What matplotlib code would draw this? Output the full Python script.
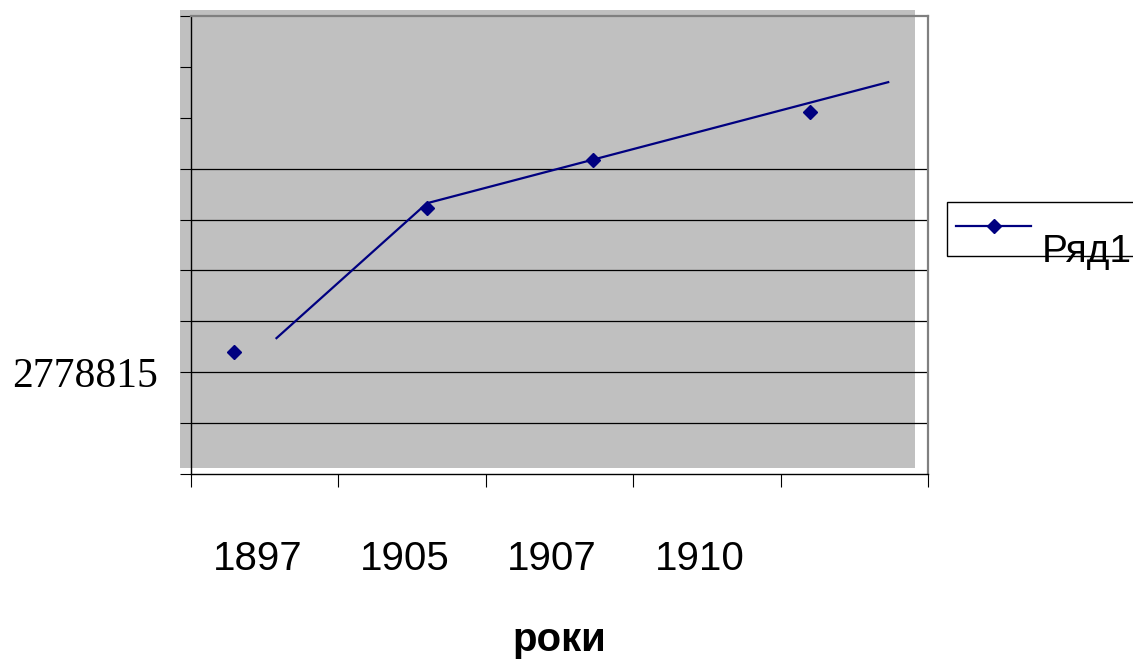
import matplotlib
matplotlib.use("Agg")
import matplotlib.pyplot as plt
from matplotlib.patches import Rectangle
from matplotlib.lines import Line2D

#############################################################################################
# data

# category labels under the x axis (they sit between the tick marks)
years = ["1897", "1905", "1907", "1910"]
year_pos = [0.45, 1.45, 2.45, 3.45]

# y scale: only one tick label is printed in the original
y_base = 1778815
y_step = 500000
y_ticks = [y_base + k * y_step for k in range(10)]
y_labeled = 2778815
grid_vals = y_ticks[1:7]

# series "Ряд1" - markers and line are drawn apart, as in the original
marker_x = [0.29, 1.60, 2.73, 4.20]
marker_y = [2978815, 4393815, 4863815, 5333815]
line_x = [0.58, 1.60, 4.73]
line_y = [3113815, 4438815, 5628815]

series_name = "Ряд1"
x_title = "роки"
navy = "#000080"

#############################################################################################
fig = plt.figure(figsize=(11.33, 6.6), dpi=100)
ax = fig.add_axes([191 / 1133, 186 / 660, 737 / 1133, 458 / 660])
ax.patch.set_visible(False)

# grey plot area, slightly shifted from the axes
ax.add_patch(Rectangle((-0.0149, 0.0131), 0.9973, 1.0, transform=ax.transAxes,
                       facecolor="#c0c0c0", edgecolor="none", zorder=0, clip_on=False))

for v in grid_vals:
    ax.axhline(v, color="black", lw=0.9, zorder=1)

ax.plot(line_x, line_y, color=navy, lw=1.6, zorder=3)
ax.plot(marker_x, marker_y, ls="none", marker="D", ms=7.5, color=navy, zorder=3)

ax.set_xlim(0, 5)
ax.set_ylim(y_ticks[0], y_ticks[-1])

# axes frame
ax.spines["left"].set_color("black")
ax.spines["bottom"].set_color("black")
ax.spines["top"].set_color("#808080")
ax.spines["right"].set_color("#808080")
ax.spines["top"].set_linewidth(1.6)
ax.spines["right"].set_linewidth(1.6)
for s in ["left", "bottom"]:
    ax.spines[s].set_linewidth(1.0)

# y ticks
ax.set_yticks(y_ticks)
ax.set_yticklabels([str(v) if v == y_labeled else "" for v in y_ticks],
                   fontfamily="Liberation Serif", fontsize=30)
ax.tick_params(axis="y", direction="out", length=8, width=0.8, pad=16)

# x ticks: marks on integer positions, year labels in between
ax.set_xticks(range(6))
ax.set_xticklabels([""] * 6)
ax.tick_params(axis="x", which="major", direction="out", length=9, width=0.8)
ax.set_xticks(year_pos, minor=True)
ax.set_xticklabels(years, minor=True, fontfamily="Liberation Sans", fontsize=29)
ax.tick_params(axis="x", which="minor", length=0, pad=47.5)

ax.set_xlabel(x_title, fontfamily="Liberation Sans", fontweight="bold", fontsize=29,
              labelpad=31)

# legend
handle = Line2D([], [], color=navy, lw=1.6, marker="D", ms=7.5)
leg = fig.legend([handle], [series_name], loc="upper left",
                 bbox_to_anchor=(947 / 1133, (660 - 202) / 660), borderaxespad=0,
                 prop={"family": "Liberation Sans", "size": 28},
                 handlelength=1.93, handletextpad=0.28, borderpad=0.235,
                 fancybox=False, shadow=False, framealpha=1)
leg.get_frame().set_edgecolor("black")
leg.get_frame().set_linewidth(1.0)
leg.get_texts()[0].set_y(-23)

fig.savefig("out.png", dpi=100)
